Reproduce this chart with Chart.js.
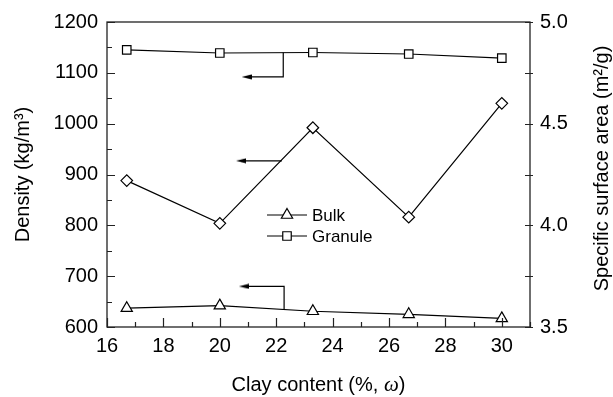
<!DOCTYPE html>
<html>
<head>
<meta charset="utf-8">
<script src="https://cdn.jsdelivr.net/npm/chart.js@4.4.1/dist/chart.umd.min.js"></script>
<style>
  html, body { margin: 0; padding: 0; background: #fff; }
  #wrap { width: 613px; height: 397px; }
</style>
</head>
<body>
<div id="wrap"><canvas id="chart"></canvas></div>
<script>
// clay content (%)
const clayContent = [16.7, 20, 23.3, 26.7, 30];
// density (kg/m3), left axis
const bulkDensity = [637, 642, 631, 625, 617];
const granuleDensity = [1145, 1139, 1140, 1137, 1129];
// specific surface area (m2/g), right axis
const surfaceArea = [4.22, 4.01, 4.48, 4.04, 4.60];

// axis ticks
const xTicks = [16, 18, 20, 22, 24, 26, 28, 30];
const densityTicks = [600, 700, 800, 900, 1000, 1100, 1200];
const areaTicks = [3.5, 4.0, 4.5, 5.0];

// arrows telling which axis a curve belongs to (data units, left axis)
const granuleArrowX = [22.25, 22.25, 20.95];
const granuleArrowY = [1140, 1092, 1092];
const areaArrowX = [22.2, 20.75];
const areaArrowY = [927, 927];
const bulkArrowX = [22.28, 22.28, 20.85];
const bulkArrowY = [634, 680, 680];

const FONT = "'Liberation Sans', Arial, sans-serif";
const SERIF = "'Liberation Serif', 'Times New Roman', serif";

function pairs(xs, ys) {
    return xs.map((x, i) => ({ x: x, y: ys[i] }));
}

// small filled arrowhead pointing left
function makeArrowHead() {
    const c = document.createElement('canvas');
    c.width = 10;
    c.height = 6;
    const g = c.getContext('2d');
    g.fillStyle = '#000';
    g.beginPath();
    g.moveTo(0, 3);
    g.lineTo(10, 0.5);
    g.lineTo(10, 5.5);
    g.closePath();
    g.fill();
    return c;
}
const arrowHead = makeArrowHead();

function arrowDataset(xs, ys) {
    const n = xs.length;
    return {
        data: pairs(xs, ys),
        yAxisID: 'y',
        borderColor: '#000',
        borderWidth: 1.2,
        pointStyle: xs.map((_, i) => i === n - 1 ? arrowHead : 'circle'),
        pointRadius: xs.map((_, i) => i === n - 1 ? 5 : 0),
        pointHoverRadius: 0
    };
}

function seriesDataset(label, ys, axis, style, radius) {
    return {
        label: label,
        data: pairs(clayContent, ys),
        yAxisID: axis,
        borderColor: '#000',
        borderWidth: 1.2,
        backgroundColor: '#fff',
        pointStyle: style,
        pointRadius: radius,
        pointBorderWidth: 1.2,
        pointBackgroundColor: '#fff',
        pointBorderColor: '#000'
    };
}

// frame round the plot area
const framePlugin = {
    id: 'frame',
    afterDatasetsDraw(chart) {
        const a = chart.chartArea;
        const ctx = chart.ctx;
        ctx.save();
        ctx.strokeStyle = '#222';
        ctx.lineWidth = 1.3;
        ctx.strokeRect(a.left, a.top, a.right - a.left, a.bottom - a.top);
        ctx.restore();
    }
};

// inward tick marks
const tickPlugin = {
    id: 'inTicks',
    afterDatasetsDraw(chart) {
        const ctx = chart.ctx;
        const a = chart.chartArea;
        const sx = chart.scales.x, sy = chart.scales.y, sy1 = chart.scales.y1;
        ctx.save();
        ctx.strokeStyle = '#222';
        ctx.lineWidth = 1.2;
        ctx.beginPath();
        for (let v = 16; v <= 31; v++) {
            const px = Math.round(sx.getPixelForValue(v)) + 0.5;
            const len = v % 2 === 0 ? 9 : 5;
            ctx.moveTo(px, a.bottom);
            ctx.lineTo(px, a.bottom - len);
        }
        for (let v = 600; v <= 1200; v += 50) {
            const py = Math.round(sy.getPixelForValue(v)) + 0.5;
            const len = v % 100 === 0 ? 8 : 5;
            ctx.moveTo(a.left, py);
            ctx.lineTo(a.left + len, py);
        }
        for (let v = 3.5; v <= 5.001; v += 0.25) {
            const py = Math.round(sy1.getPixelForValue(v)) + 0.5;
            ctx.moveTo(a.right - 5, py);
            ctx.lineTo(a.right + 3, py);
        }
        ctx.stroke();
        ctx.restore();
    }
};

// axis titles the library can't style: italic omega, bottom-to-top right title
const titlePlugin = {
    id: 'titles',
    afterDraw(chart) {
        const ctx = chart.ctx;
        const a = chart.chartArea;
        ctx.save();
        ctx.fillStyle = '#000';
        ctx.textBaseline = 'middle';

        const parts = [
            { t: 'Clay content (%, ', f: '20px ' + FONT },
            { t: 'ω', f: 'italic 21px ' + SERIF },
            { t: ')', f: '20px ' + FONT }
        ];
        let total = 0;
        parts.forEach(p => { ctx.font = p.f; p.w = ctx.measureText(p.t).width; total += p.w; });
        let x = (a.left + a.right) / 2 - total / 2;
        ctx.textAlign = 'left';
        parts.forEach(p => { ctx.font = p.f; ctx.fillText(p.t, x, 385); x += p.w; });

        ctx.translate(602, (a.top + a.bottom) / 2 - 6);
        ctx.rotate(-Math.PI / 2);
        ctx.textAlign = 'center';
        ctx.font = '20px ' + FONT;
        ctx.fillText('Specific surface area (m²/g)', 0, 0);
        ctx.restore();
    }
};

const bulk = seriesDataset('Bulk', bulkDensity, 'y', 'triangle', 6.5);
const granule = seriesDataset('Granule', granuleDensity, 'y', 'rect', 6);
const area = seriesDataset('Specific surface area', surfaceArea, 'y1', 'rectRot', 5.8);
const legendItems = [bulk, granule];

// legend inside the plot
const legendPlugin = {
    id: 'innerLegend',
    afterDraw(chart) {
        const ctx = chart.ctx;
        const x0 = 267, y0 = 215, rowH = 21;
        ctx.save();
        ctx.font = '17px ' + FONT;
        ctx.textBaseline = 'middle';
        legendItems.forEach((d, i) => {
            const y = y0 + i * rowH;
            ctx.strokeStyle = '#000';
            ctx.lineWidth = 1.2;
            ctx.beginPath();
            ctx.moveTo(x0, y);
            ctx.lineTo(x0 + 40, y);
            ctx.stroke();
            ctx.fillStyle = '#fff';
            Chart.helpers.drawPoint(ctx, {
                pointStyle: d.pointStyle,
                rotation: 0,
                radius: d.pointRadius,
                borderWidth: 1.2
            }, x0 + 20, y);
            ctx.fillStyle = '#000';
            ctx.fillText(d.label, x0 + 45, y + 1);
        });
        ctx.restore();
    }
};

new Chart(document.getElementById('chart'), {
    type: 'line',
    data: {
        datasets: [
            arrowDataset(granuleArrowX, granuleArrowY),
            arrowDataset(areaArrowX, areaArrowY),
            arrowDataset(bulkArrowX, bulkArrowY),
            area,
            granule,
            bulk
        ]
    },
    options: {
        responsive: true,
        maintainAspectRatio: false,
        animation: false,
        events: [],
        layout: { padding: { top: 20, right: 0, bottom: 0, left: 0 } },
        scales: {
            x: {
                type: 'linear',
                min: 16,
                max: 31,
                afterBuildTicks: s => { s.ticks = xTicks.map(v => ({ value: v })); },
                afterFit: s => { s.height = 70; },
                grid: { display: false, drawTicks: false },
                border: { display: false },
                ticks: { color: '#000', padding: 7, font: { family: FONT, size: 20 }, callback: v => String(v) },
                title: { display: false }
            },
            y: {
                position: 'left',
                min: 600,
                max: 1200,
                afterBuildTicks: s => { s.ticks = densityTicks.map(v => ({ value: v })); },
                afterFit: s => { s.width = 107; },
                grid: { display: false, drawTicks: false },
                border: { display: false },
                ticks: { color: '#000', padding: 9, font: { family: FONT, size: 20 }, callback: v => String(v) },
                title: {
                    display: true,
                    text: 'Density (kg/m³)',
                    color: '#000',
                    padding: { top: 11, bottom: 0 },
                    font: { family: FONT, size: 20 }
                }
            },
            y1: {
                position: 'right',
                min: 3.5,
                max: 5.0,
                afterBuildTicks: s => { s.ticks = areaTicks.map(v => ({ value: v })); },
                afterFit: s => { s.width = 83; },
                grid: { display: false, drawTicks: false },
                border: { display: false },
                ticks: {
                    color: '#000',
                    padding: 10,
                    font: { family: FONT, size: 20 },
                    callback: v => v.toFixed(1)
                },
                title: { display: false }
            }
        },
        plugins: {
            legend: { display: false },
            tooltip: { enabled: false }
        }
    },
    plugins: [framePlugin, tickPlugin, titlePlugin, legendPlugin]
});
</script>
</body>
</html>
